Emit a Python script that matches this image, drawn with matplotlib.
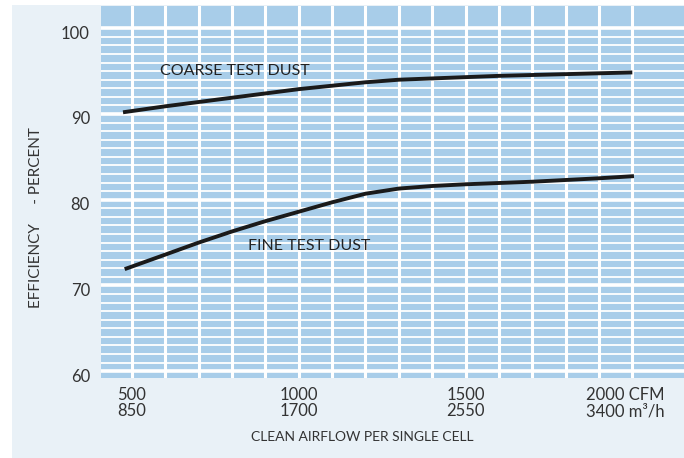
import matplotlib
matplotlib.use("Agg")
import matplotlib.pyplot as plt
from matplotlib.patches import Rectangle
from matplotlib.transforms import ScaledTranslation

plt.rcParams['font.family'] = ['Lato', 'DejaVu Sans']

# airflow in CFM, efficiency in percent
coarse_cfm = [473, 600, 700, 800, 900, 1000, 1100, 1200, 1300, 1400, 1500, 1600, 1700, 1800, 1900, 2000]
coarse_eff = [90.2, 90.9, 91.4, 91.9, 92.4, 92.9, 93.3, 93.7, 94.0, 94.15, 94.3, 94.45, 94.55, 94.65, 94.75, 94.85]
fine_cfm = [478, 600, 700, 800, 900, 1000, 1100, 1200, 1300, 1400, 1500, 1600, 1700, 1800, 1900, 2005]
fine_eff = [71.9, 73.6, 75.0, 76.3, 77.5, 78.6, 79.7, 80.7, 81.3, 81.6, 81.8, 81.95, 82.1, 82.3, 82.5, 82.75]

x_ticks = [500, 1000, 1500, 2000]
x_labels = ["500\n850", "1000\n1700", "1500\n2550", "2000 CFM\n3400 m³/h"]
y_ticks = [60, 70, 80, 90, 100]

W, H = 684, 458
fig = plt.figure(figsize=(W / 100, H / 100), dpi=100)

# light panel behind the chart
fig.patches.append(Rectangle((12 / W, 0), 1 - 12 / W, 1 - 5 / H, transform=fig.transFigure,
                             facecolor='#e9f1f7', edgecolor='none', zorder=-5))

ax = fig.add_axes([101 / W, (H - 378) / H, 1 - 101 / W, 372 / H])
ax.set_facecolor('#a8cde9')
ax.set_xlim(407, 2155)
ax.set_ylim(59.2, 102.6)

# white grid
for v in range(500, 2001, 100):
    ax.axvline(v, color='white', lw=2.2, zorder=1)
for h in range(60, 101):
    if h % 10 == 0:
        ax.axhline(h, color='white', lw=2.6, zorder=1)
    else:
        ax.axhline(h, color='white', lw=1.3, zorder=1)

ax.plot(coarse_cfm, coarse_eff, color='#1a1a1a', lw=2.8, solid_capstyle='butt', zorder=3)
ax.plot(fine_cfm, fine_eff, color='#1a1a1a', lw=2.8, solid_capstyle='butt', zorder=3)

ax.text(808, 95.0, "COARSE TEST DUST", fontsize=11.5, color='#222222', ha='center', va='center', zorder=4)
ax.text(1030, 74.6, "FINE TEST DUST", fontsize=11.5, color='#222222', ha='center', va='center', zorder=4)

for s in ax.spines.values():
    s.set_visible(False)
ax.tick_params(length=0)

ax.set_yticks(y_ticks)
ax.set_yticklabels([str(t) for t in y_ticks], fontsize=12, color='#333333')
ax.tick_params(axis='y', pad=8)
for lab in ax.get_yticklabels():
    lab.set_transform(lab.get_transform() + ScaledTranslation(0, -4 / 100, fig.dpi_scale_trans))

ax.set_xticks([])
for t, lab in zip(x_ticks, x_labels):
    xx = t - 22 if t == 2000 else t
    ax.text(xx, 58.2, lab, fontsize=12, color='#333333', ha='center', va='top',
            linespacing=1.05, multialignment='center')

fig.text(362 / W, 1 - 437 / H, "CLEAN AIRFLOW PER SINGLE CELL", fontsize=10, color='#333333',
         ha='center', va='center')
fig.text(36 / W, 1 - 218 / H, "EFFICIENCY     - PERCENT", fontsize=11, color='#333333',
         ha='center', va='center', rotation=90)

fig.savefig("out.png", dpi=100)
